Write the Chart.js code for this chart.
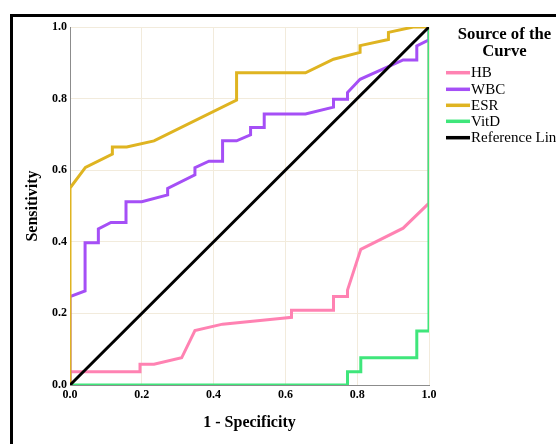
<!DOCTYPE html>
<html>
<head>
<meta charset="utf-8">
<script src="https://cdn.jsdelivr.net/npm/chart.js@4.4.1/dist/chart.umd.min.js"></script>
<style>
  html, body { margin: 0; padding: 0; background: #fff; overflow: hidden; }
  #roc { display: block; }
</style>
</head>
<body>
<canvas id="roc" width="556" height="444" style="width:556px;height:444px"></canvas>
<script>
// ROC points (x = 1 - specificity, y = sensitivity)
var hbX = [0, 0, 0.195, 0.195, 0.234, 0.311, 0.348, 0.425, 0.585, 0.617, 0.617, 0.734, 0.734, 0.773, 0.773, 0.810, 0.928, 1, 1];
var hbY = [0, 0.037, 0.037, 0.058, 0.058, 0.076, 0.152, 0.170, 0.186, 0.189, 0.209, 0.209, 0.247, 0.247, 0.265, 0.379, 0.438, 0.508, 1];

var wbcX = [0, 0, 0.042, 0.042, 0.079, 0.079, 0.114, 0.156, 0.156, 0.200, 0.272, 0.272, 0.348, 0.348, 0.387, 0.425, 0.425, 0.464, 0.503, 0.503, 0.541, 0.541, 0.656, 0.734, 0.734, 0.773, 0.773, 0.808, 0.928, 0.966, 0.966, 1, 1];
var wbcY = [0, 0.247, 0.263, 0.397, 0.397, 0.436, 0.454, 0.454, 0.512, 0.512, 0.531, 0.549, 0.587, 0.607, 0.625, 0.625, 0.682, 0.682, 0.699, 0.719, 0.719, 0.757, 0.757, 0.776, 0.798, 0.798, 0.817, 0.854, 0.908, 0.908, 0.947, 0.964, 1];

var esrX = [0, 0, 0.043, 0.118, 0.118, 0.158, 0.234, 0.464, 0.464, 0.656, 0.734, 0.808, 0.808, 0.887, 0.887, 0.956, 1];
var esrY = [0, 0.550, 0.608, 0.645, 0.665, 0.665, 0.682, 0.796, 0.872, 0.872, 0.910, 0.929, 0.948, 0.965, 0.985, 1, 1];

var vitdX = [0, 0.773, 0.773, 0.810, 0.810, 0.966, 0.966, 1, 1];
var vitdY = [0, 0, 0.037, 0.037, 0.076, 0.076, 0.151, 0.151, 1];

var refX = [0, 1];
var refY = [0, 1];

var seriesNames = ['HB', 'WBC', 'ESR', 'VitD', 'Reference Line'];
var legendTitle = ['Source of the', 'Curve'];
var tickValues = [0, 0.2, 0.4, 0.6, 0.8, 1.0];

var serif = "'Liberation Serif', 'Times New Roman', serif";

function pts(xs, ys) {
    return xs.map(function (x, i) { return {x: x, y: ys[i]}; });
}

function rocLine(label, xs, ys, color, order) {
    return {
        label: label,
        data: pts(xs, ys),
        borderColor: color,
        backgroundColor: color,
        borderWidth: 3,
        pointRadius: 0,
        tension: 0,
        fill: false,
        order: order,
        borderJoinStyle: 'miter'
    };
}

var axisStyle = function (titleText, titlePad) {
    return {
        type: 'linear',
        min: 0,
        max: 1,
        afterBuildTicks: function (scale) {
            scale.ticks = tickValues.map(function (v) { return {value: v}; });
        },
        ticks: {
            color: '#000',
            padding: 3,
            font: {family: serif, size: 12, weight: 'bold'},
            callback: function (v) { return Number(v).toFixed(1); }
        },
        grid: {color: '#f2ebdc', lineWidth: 1, drawTicks: false},
        border: {display: true, color: '#8c8c8c', width: 1},
        title: {
            display: true,
            text: titleText,
            color: '#000',
            font: {family: serif, size: 16, weight: 'bold'},
            padding: titlePad
        }
    };
};

var xAxis = axisStyle('1 - Specificity', {top: 0, bottom: 12});
xAxis.afterFit = function (scale) { scale.height = 59; };
var yAxis = axisStyle('Sensitivity', {top: 23, bottom: 0});
yAxis.afterFit = function (scale) { scale.width = 70; };

var sheetPlugin = {
    id: 'sheet',
    beforeDraw: function (chart) {
        var ctx = chart.ctx;
        ctx.save();
        ctx.fillStyle = '#fff';
        ctx.fillRect(0, 0, chart.width, chart.height);
        ctx.restore();
    },
    afterDraw: function (chart) {
        var ctx = chart.ctx;
        ctx.save();
        // frame round the whole graph
        ctx.strokeStyle = '#000';
        ctx.lineWidth = 3;
        ctx.strokeRect(11.5, 15.5, 700, 600);

        // legend
        ctx.fillStyle = '#000';
        ctx.textAlign = 'center';
        ctx.textBaseline = 'middle';
        ctx.font = 'bold 16.7px ' + serif;
        ctx.fillText(legendTitle[0], 504.5, 35);
        ctx.fillText(legendTitle[1], 504.5, 51.5);

        var rowY = [72.7, 89.3, 105.3, 121.3, 137.7];
        ctx.font = '15px ' + serif;
        ctx.textAlign = 'left';
        chart.data.datasets.forEach(function (ds, i) {
            ctx.strokeStyle = ds.borderColor;
            ctx.lineWidth = 3.5;
            ctx.beginPath();
            ctx.moveTo(446, rowY[i]);
            ctx.lineTo(470, rowY[i]);
            ctx.stroke();
            ctx.fillStyle = '#000';
            ctx.fillText(ds.label, 471, rowY[i] + 0.5);
        });
        ctx.restore();
    }
};

var chart = new Chart(document.getElementById('roc'), {
    type: 'line',
    data: {
        datasets: [
            rocLine(seriesNames[0], hbX, hbY, '#ff82b2', 5),
            rocLine(seriesNames[1], wbcX, wbcY, '#a54ff6', 4),
            rocLine(seriesNames[2], esrX, esrY, '#dfb421', 3),
            rocLine(seriesNames[3], vitdX, vitdY, '#3fe67b', 2),
            rocLine(seriesNames[4], refX, refY, '#000000', 1)
        ]
    },
    options: {
        responsive: false,
        animation: false,
        layout: {padding: {left: 0, right: 127, top: 27, bottom: 0}},
        plugins: {
            legend: {display: false},
            tooltip: {enabled: false}
        },
        scales: {
            x: xAxis,
            y: yAxis
        }
    },
    plugins: [sheetPlugin]
});
</script>
</body>
</html>
